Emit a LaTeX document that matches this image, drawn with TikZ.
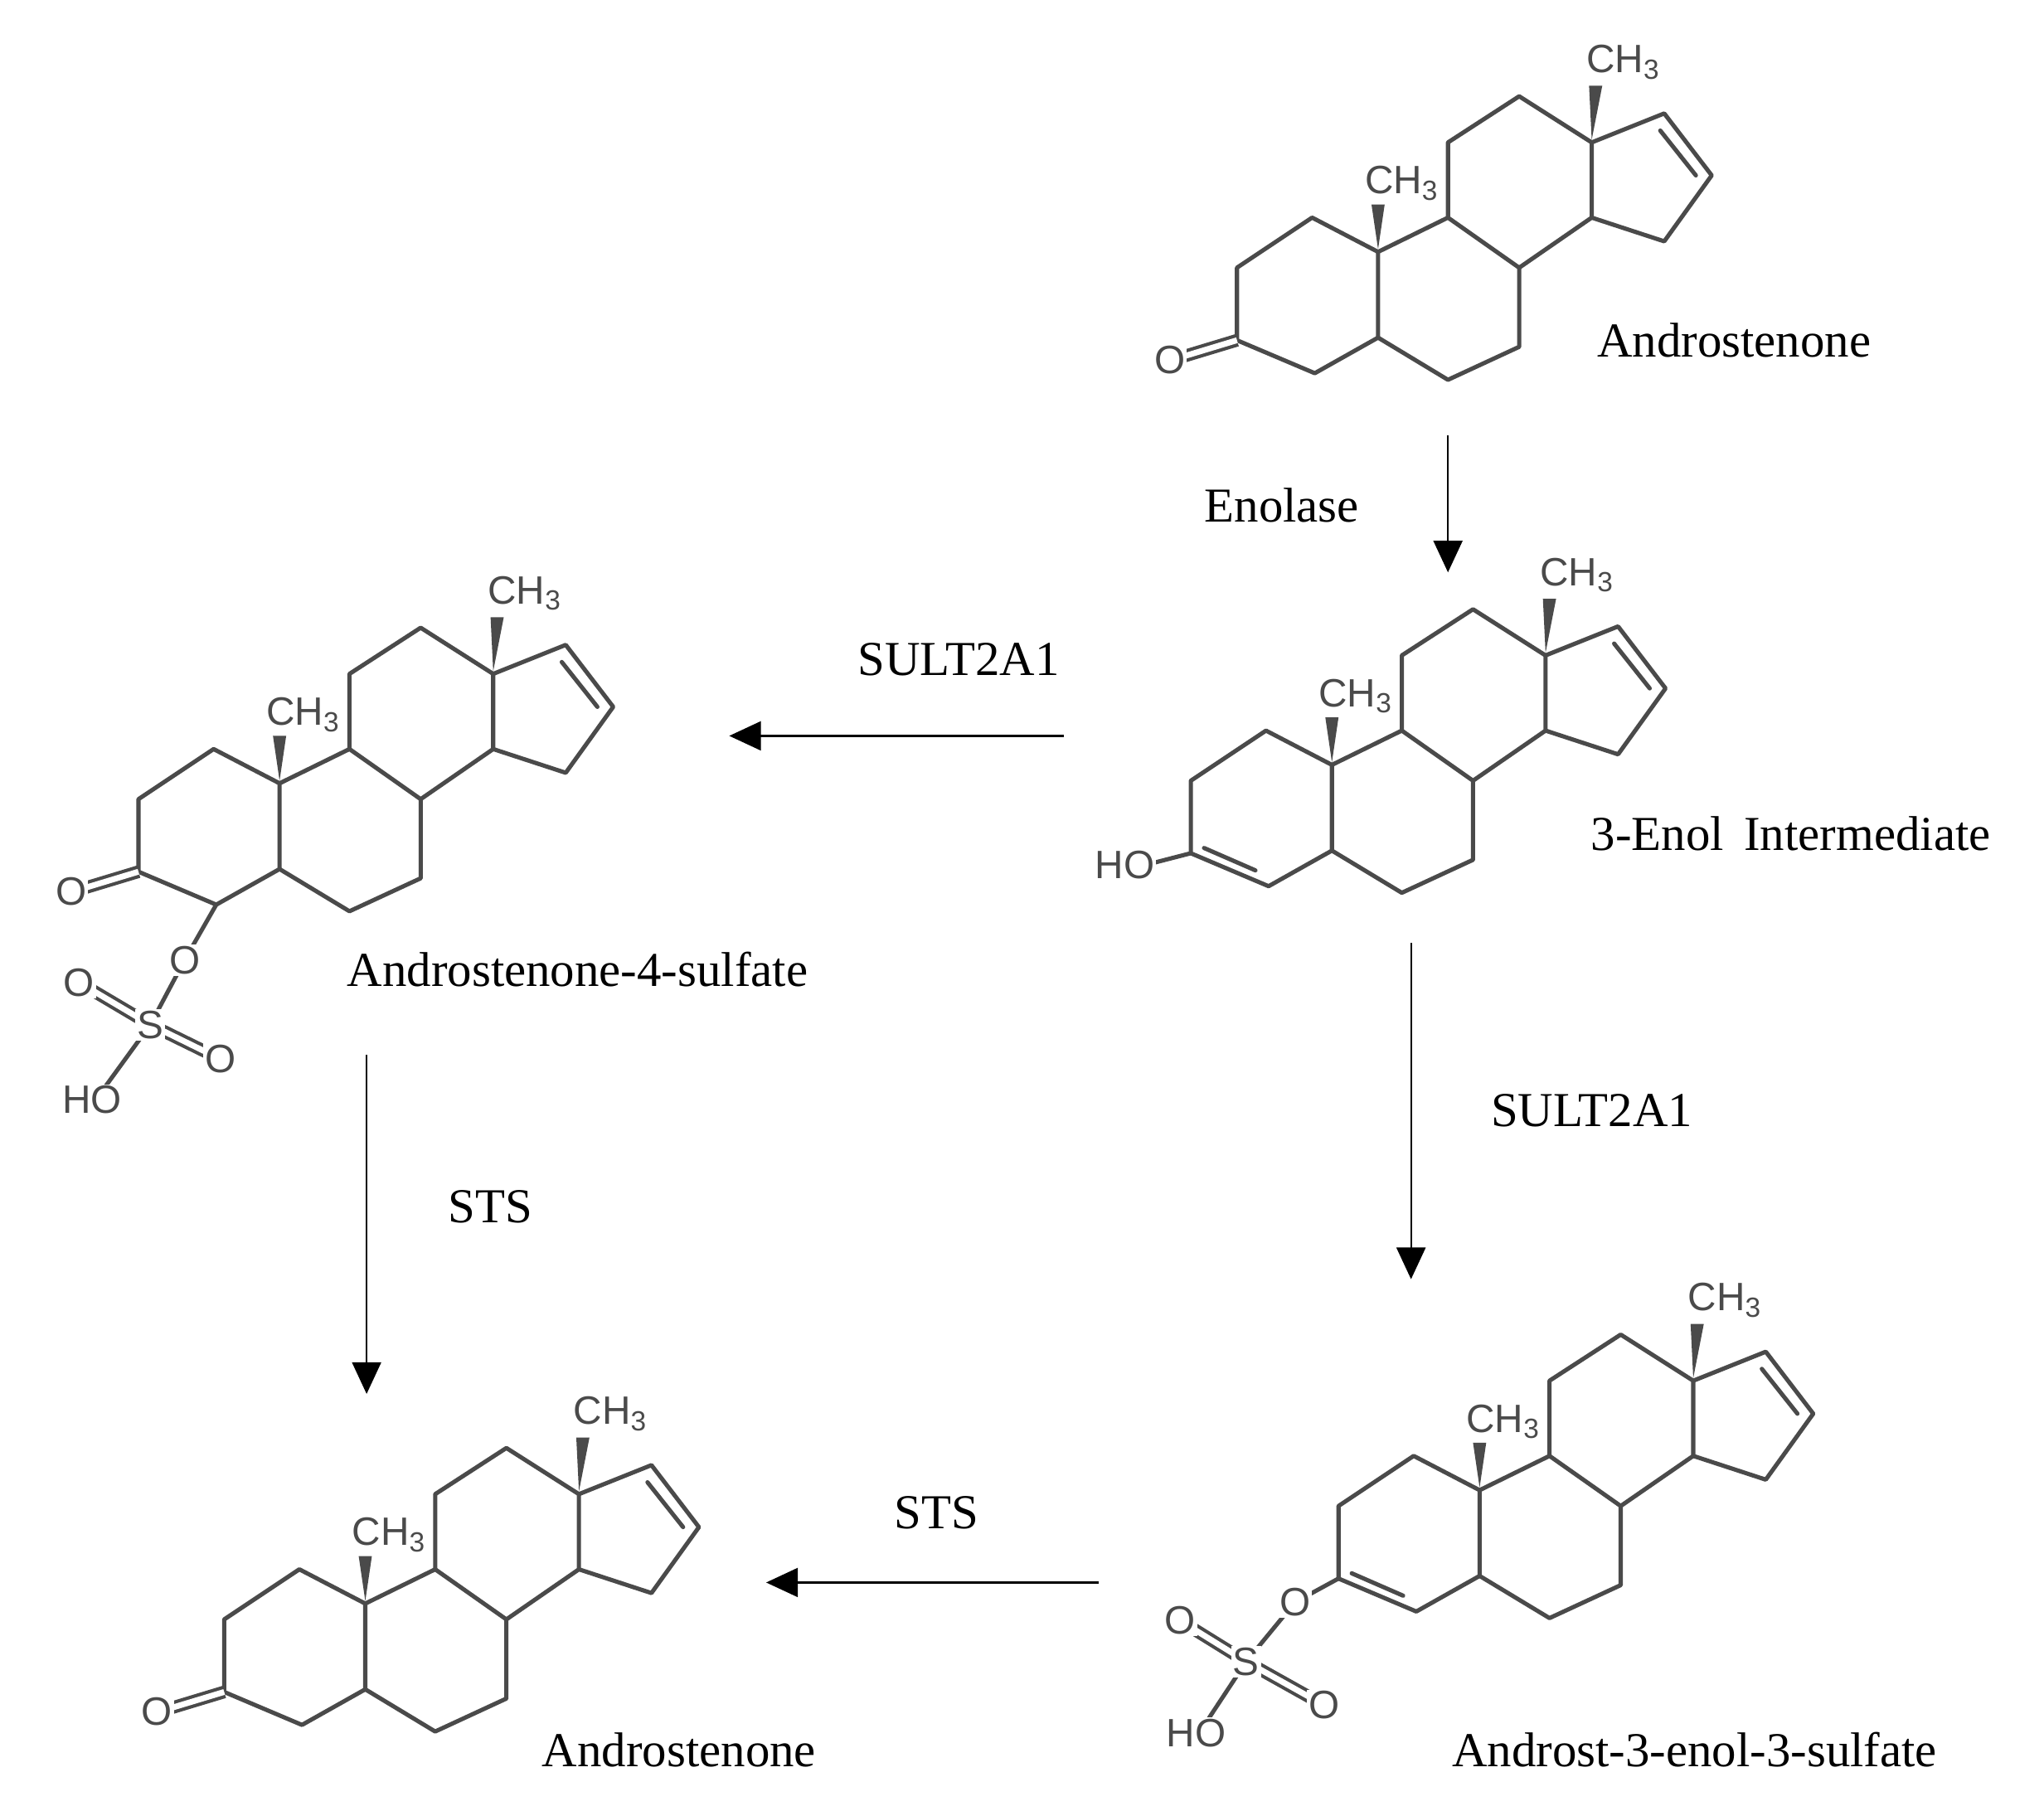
\documentclass[tikz,border=0pt]{standalone}
\usepackage{fontspec}
\setmainfont{Liberation Serif}
\newfontfamily\chemsans{Liberation Sans}
\usetikzlibrary{arrows.meta}
\definecolor{bondgray}{HTML}{4A4A4A}
\newcommand\skel{%
  \draw[bond] (-50,-26) -- (-107,12) -- (-107,67) -- (-48,92) -- (0,65) -- (0,0) -- cycle;
  \draw[bond] (0,65) -- (53,97) -- (107,72) -- (107,12) -- (53,-26) -- (0,0);
  \draw[bond] (53,-26) -- (53,-83) -- (107,-118) -- (162,-83) -- (162,-26) -- (107,12);
  \draw[bond] (162,-83) -- (217,-105) -- (253,-58) -- (217,-8) -- (162,-26);
  \draw[bond] (214,-92) -- (241,-58);
  \fill[bondgray] (0,-2) -- (-5,-36) -- (5,-36) -- cycle;
  \fill[bondgray] (162,-85) -- (160,-126) -- (170,-126) -- cycle;
  \node[atom,fill=none] at (18,-52) {CH\textsubscript{3}};
  \node[atom,fill=none] at (186,-144) {CH\textsubscript{3}};
}
\newcommand\ketone{%
  \draw[dbl] (-107,67) -- (-150,80);
  \node[atom] at (-158,82) {O};
}
\newcommand\enol{%
  \draw[bond] (-97,63) -- (-58,80);
}
\begin{document}
\begin{tikzpicture}[x=0.5pt,y=-0.5pt,
  bond/.style={draw=bondgray,line width=1.6pt,line join=round,line cap=round},
  dbl/.style={draw=bondgray,line width=1.3pt,double=white,double distance=2.2pt},
  atom/.style={font=\chemsans\fontsize{15}{15}\selectfont,text=bondgray,fill=white,inner sep=0.6pt},
  lbl/.style={font=\fontsize{18.5}{20}\selectfont},
  rx/.style={-{Triangle[length=12pt,width=11pt]},line width=0.7pt}]
\useasboundingbox (0,0) rectangle (1550,1373);
% Molecule 1: Androstenone (top)
\begin{scope}[shift={(1045,191)}]
  \skel \ketone
\end{scope}
% Molecule 2: 3-Enol intermediate
\begin{scope}[shift={(1010,580)}]
  \skel \enol
  \draw[bond] (-107,67) -- (-138,75);
  \node[atom] at (-157,76) {HO};
\end{scope}
% Molecule 3: Androstenone-4-sulfate
\begin{scope}[shift={(212,594)}]
  \skel \ketone
  \draw[bond] (-48,92) -- (-72,134);
  \draw[bond] (-72,134) -- (-98,183);
  \draw[dbl] (-98,183) -- (-152,151);
  \draw[dbl] (-98,183) -- (-45,209);
  \draw[bond] (-98,183) -- (-138,238);
  \node[atom] at (-72,134) {O};
  \node[atom] at (-98,183) {S};
  \node[atom] at (-152,151) {O};
  \node[atom] at (-45,209) {O};
  \node[atom] at (-142,240) {HO};
\end{scope}
% Molecule 4: Androst-3-enol-3-sulfate
\begin{scope}[shift={(1122,1130)}]
  \skel \enol
  \draw[bond] (-107,67) -- (-140,85);
  \draw[bond] (-140,85) -- (-177,130);
  \draw[dbl] (-177,130) -- (-227,99);
  \draw[dbl] (-177,130) -- (-118,163);
  \draw[bond] (-177,130) -- (-210,180);
  \node[atom] at (-140,85) {O};
  \node[atom] at (-177,130) {S};
  \node[atom] at (-227,99) {O};
  \node[atom] at (-118,163) {O};
  \node[atom] at (-215,184) {HO};
\end{scope}
% Molecule 5: Androstenone (bottom)
\begin{scope}[shift={(277,1216)}]
  \skel \ketone
\end{scope}
% labels
\node[lbl] (n1) at (1315,258) {Androstenone};
\node[lbl] (e1) at (972,383) {Enolase};
\node[lbl] (n2) at (1358,632) {3-Enol\, Intermediate};
\node[lbl] (e2) at (727,500) {SULT2A1};
\node[lbl] (n3) at (438,735) {Androstenone-4-sulfate};
\node[lbl] (e3) at (1207,842) {SULT2A1};
\node[lbl] (e4) at (372,915) {STS};
\node[lbl] (e5) at (710,1147) {STS};
\node[lbl] (n5) at (515,1327) {Androstenone};
\node[lbl] (n4) at (1285,1327) {Androst-3-enol-3-sulfate};
% arrows
\coordinate (a1s) at (1098,330); \coordinate (a1e) at (1098,434);
\coordinate (a2s) at (807,558);  \coordinate (a2e) at (553,558);
\coordinate (a3s) at (1070,715); \coordinate (a3e) at (1070,970);
\coordinate (a4s) at (278,800);  \coordinate (a4e) at (278,1057);
\coordinate (a5s) at (833,1200); \coordinate (a5e) at (581,1200);
\draw[rx] (a1s) -- (a1e);
\draw[rx] (a2s) -- (a2e);
\draw[rx] (a3s) -- (a3e);
\draw[rx] (a4s) -- (a4e);
\draw[rx] (a5s) -- (a5e);
\end{tikzpicture}
\end{document}
